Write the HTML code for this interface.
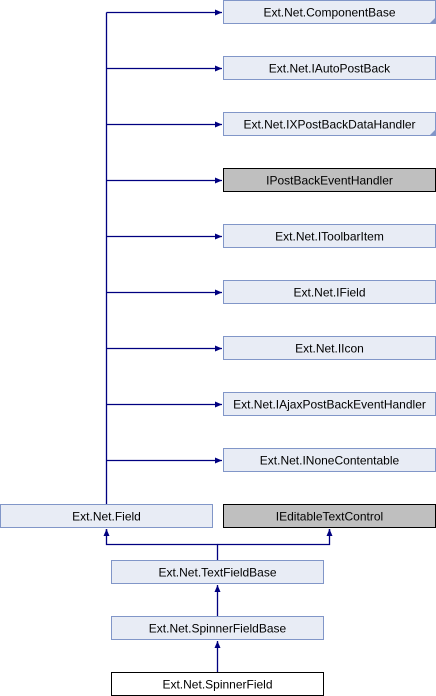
<!DOCTYPE html>
<html><head><meta charset="utf-8"><style>
html,body{margin:0;padding:0;background:#fff;width:436px;height:696px;overflow:hidden}
text{font-family:"Liberation Sans",sans-serif;font-size:12px;fill:#000}
</style></head><body>
<svg width="436" height="696" viewBox="0 0 436 696" xmlns="http://www.w3.org/2000/svg">
<defs>
<marker id="ar" markerWidth="8" markerHeight="8" refX="7" refY="4" orient="auto" markerUnits="userSpaceOnUse">
<path d="M0,1 L7,4 L0,7 Z" fill="#000080"/>
</marker>
</defs>
<g stroke="#000080" stroke-width="1.3" fill="none">
<line x1="106.5" y1="12.5" x2="106.5" y2="504"/>
<line x1="106.5" y1="12.5" x2="222" y2="12.5" marker-end="url(#ar)"/>
<line x1="106.5" y1="68.5" x2="222" y2="68.5" marker-end="url(#ar)"/>
<line x1="106.5" y1="124.5" x2="222" y2="124.5" marker-end="url(#ar)"/>
<line x1="106.5" y1="180.5" x2="222" y2="180.5" marker-end="url(#ar)"/>
<line x1="106.5" y1="236.5" x2="222" y2="236.5" marker-end="url(#ar)"/>
<line x1="106.5" y1="292.5" x2="222" y2="292.5" marker-end="url(#ar)"/>
<line x1="106.5" y1="348.5" x2="222" y2="348.5" marker-end="url(#ar)"/>
<line x1="106.5" y1="404.5" x2="222" y2="404.5" marker-end="url(#ar)"/>
<line x1="106.5" y1="460.5" x2="222" y2="460.5" marker-end="url(#ar)"/>
<polyline points="217.5,560 217.5,544.5 106.5,544.5 106.5,529"/>
<polyline points="217.5,544.5 329.5,544.5 329.5,529"/>
<line x1="106.5" y1="536" x2="106.5" y2="529" marker-end="url(#ar)"/>
<line x1="329.5" y1="536" x2="329.5" y2="529" marker-end="url(#ar)"/>
<line x1="217.5" y1="616" x2="217.5" y2="585" marker-end="url(#ar)"/>
<line x1="217.5" y1="672" x2="217.5" y2="641" marker-end="url(#ar)"/>
</g>
<g stroke="#8196c8" fill="#e8ecf5">
<rect x="223.5" y="0.5" width="212" height="23"/>
<rect x="223.5" y="56.5" width="212" height="23"/>
<rect x="223.5" y="112.5" width="212" height="23"/>
<rect x="223.5" y="224.5" width="212" height="23"/>
<rect x="223.5" y="280.5" width="212" height="23"/>
<rect x="223.5" y="336.5" width="212" height="23"/>
<rect x="223.5" y="392.5" width="212" height="23"/>
<rect x="223.5" y="448.5" width="212" height="23"/>
<rect x="0.5" y="504.5" width="212" height="23"/>
<rect x="111.5" y="560.5" width="212" height="23"/>
<rect x="111.5" y="616.5" width="212" height="23"/>
</g>
<g fill="#8196c8">
<path d="M436,17 L436,24 L429,24 Z"/>
<path d="M436,129 L436,136 L429,136 Z"/>
</g>
<g stroke="#000" fill="#bfbfbf">
<rect x="223.5" y="168.5" width="212" height="23"/>
<rect x="223.5" y="504.5" width="212" height="23"/>
</g>
<rect x="111.5" y="672.5" width="212" height="23" stroke="#000" fill="#fff"/>
<g text-anchor="middle">
<text x="329.5" y="16.5">Ext.Net.ComponentBase</text>
<text x="329.5" y="72.5">Ext.Net.IAutoPostBack</text>
<text x="329.5" y="128.5">Ext.Net.IXPostBackDataHandler</text>
<text x="329.5" y="184.5">IPostBackEventHandler</text>
<text x="329.5" y="240.5">Ext.Net.IToolbarItem</text>
<text x="329.5" y="296.5">Ext.Net.IField</text>
<text x="329.5" y="352.5">Ext.Net.IIcon</text>
<text x="329.5" y="408.5">Ext.Net.IAjaxPostBackEventHandler</text>
<text x="329.5" y="464.5">Ext.Net.INoneContentable</text>
<text x="106.5" y="520.5">Ext.Net.Field</text>
<text x="329.5" y="520.5">IEditableTextControl</text>
<text x="217.5" y="576.5">Ext.Net.TextFieldBase</text>
<text x="217.5" y="632.5">Ext.Net.SpinnerFieldBase</text>
<text x="217.5" y="688.5">Ext.Net.SpinnerField</text>
</g>
</svg>
</body></html>
